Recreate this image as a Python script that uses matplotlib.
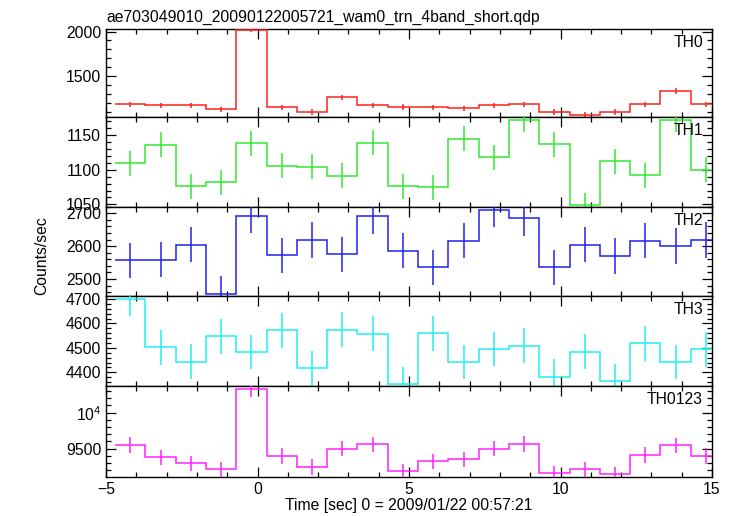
import numpy as np
import matplotlib
matplotlib.use("Agg")
from matplotlib import pyplot as plt
from matplotlib.ticker import MultipleLocator

plt.rcParams['font.family'] = ['Liberation Sans', 'DejaVu Sans']

title = "ae703049010_20090122005721_wam0_trn_4band_short.qdp"
time = [-4.2, -3.2, -2.2, -1.2, -0.2, 0.8, 1.8, 2.8, 3.8, 4.8,
        5.8, 6.8, 7.8, 8.8, 9.8, 10.8, 11.8, 12.8, 13.8, 14.8]

th0 = [1185, 1174, 1174, 1130, 2022, 1152, 1104, 1263, 1174, 1159,
       1152, 1141, 1174, 1185, 1100, 1070, 1100, 1185, 1337, 1185]
th0_err = [32] * 20

th1 = [1109, 1136, 1076, 1082, 1138, 1106, 1104, 1091, 1139, 1076,
       1075, 1145, 1118, 1172, 1137, 1049, 1112, 1092, 1172, 1100]
th1_err = [18] * 20

th2 = [2557, 2559, 2605, 2454, 2693, 2572, 2619, 2575, 2691, 2586,
       2535, 2617, 2711, 2686, 2535, 2605, 2570, 2617, 2600, 2619]
th2_err = [54] * 20

th3 = [4700, 4502, 4444, 4547, 4483, 4571, 4416, 4574, 4558, 4352,
       4559, 4442, 4495, 4509, 4382, 4485, 4364, 4518, 4442, 4494]
th3_err = [71] * 20

th0123 = [9551, 9380, 9296, 9213, 10324, 9398, 9245, 9500, 9560, 9185,
          9324, 9352, 9500, 9565, 9157, 9213, 9144, 9412, 9546, 9398]
th0123_err = [107] * 20

panels = [
    ("TH0", th0, th0_err, "#ff2020", (1045, 2028), [1500, 2000], ["1500", "2000"], 100),
    ("TH1", th1, th1_err, "#30e830", (1047, 1176), [1050, 1100, 1150], ["1050", "1100", "1150"], 10),
    ("TH2", th2, th2_err, "#2020ee", (2448, 2721), [2500, 2600, 2700], ["2500", "2600", "2700"], 20),
    ("TH3", th3, th3_err, "#20f0f0", (4344, 4712), [4400, 4500, 4600, 4700], ["4400", "4500", "4600", "4700"], 20),
    ("TH0123", th0123, th0123_err, "#ff20ff", (9107, 10370), [9500, 10000], ["9500", r"$\mathregular{10^4}$"], 100),
]

W, H = 733, 516
fig = plt.figure(figsize=(W / 100, H / 100), dpi=100)
x0, x1 = 106, 712
# panel boundaries in pixels from the top
ybounds = [29, 117, 206.5, 296, 386, 477]

t = np.array(time)
edges = np.append(t - 0.5, t[-1] + 0.5)

for i, (name, vals, errs, col, ylim, yt, ytl, ymin) in enumerate(panels):
    ya, yb = ybounds[i], ybounds[i + 1]
    ax = fig.add_axes([x0 / W, 1 - yb / H, (x1 - x0) / W, (yb - ya) / H])
    ax.stairs(vals, edges, baseline=None, color=col, lw=1.1, zorder=3)
    ax.errorbar(time, vals, yerr=errs, fmt='none', ecolor=col, elinewidth=1.1, zorder=3)
    ax.set_xlim(-5, 15)
    ax.set_ylim(*ylim)
    ax.set_yticks(yt)
    ax.set_yticklabels(ytl)
    ax.yaxis.set_minor_locator(MultipleLocator(ymin))
    ax.xaxis.set_major_locator(MultipleLocator(5))
    ax.xaxis.set_minor_locator(MultipleLocator(1))
    ax.tick_params(which='both', direction='in', top=True, right=True,
                   labelsize=11.3, width=0.9)
    ax.tick_params(which='major', length=7)
    ax.tick_params(which='minor', length=3.5)
    for s in ax.spines.values():
        s.set_linewidth(1.0)
    ax.text(0.985, 0.93, name, transform=ax.transAxes, ha='right', va='top', fontsize=11.3)
    if i < 4:
        ax.tick_params(labelbottom=False)
    else:
        ax.set_xticks([-5, 0, 5, 10, 15])
        ax.set_xticklabels(["\u22125", "0", "5", "10", "15"])
        ax.set_xlabel("Time [sec] 0 = 2009/01/22 00:57:21", fontsize=11.3, labelpad=1)
    if i == 0:
        ax.set_title(title, loc='left', fontsize=11.3, pad=5)

fig.text(42 / W, 1 - 256 / H, "Counts/sec", rotation=90, ha='center', va='center', fontsize=11.3)

fig.savefig("out.png", dpi=100)
